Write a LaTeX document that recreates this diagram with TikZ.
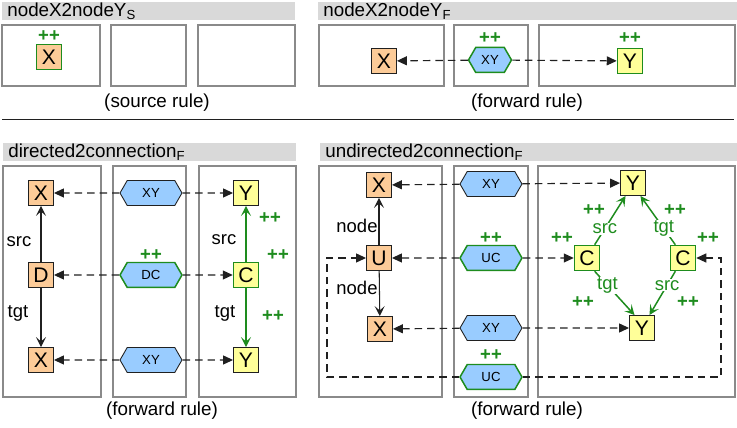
\documentclass[tikz,border=0pt]{standalone}
\usepackage{fontspec}
\setmainfont{Liberation Sans}
\usepackage{tikz}
\usetikzlibrary{calc,positioning,shapes.geometric,shapes.symbols,arrows.meta}
\usepackage{xcolor}
\definecolor{RuleGreen}{HTML}{1E8C1E}
\definecolor{PeachFill}{HTML}{FCCB98}
\definecolor{LemonFill}{HTML}{FFFF99}
\definecolor{SkyFill}{HTML}{99CCFF}
\definecolor{BarGray}{HTML}{D9D9D9}
\definecolor{PanelGray}{HTML}{8A8A8A}
\definecolor{InkGray}{HTML}{202020}

\begin{document}
\begin{tikzpicture}[x=0.02cm, y=-0.02cm,
				titlebar/.style={fill=BarGray},
				titletext/.style={anchor=west, inner sep=0pt, font=\fontsize{10.7}{12}\selectfont},
				panel/.style={draw=PanelGray, line width=0.85pt},
				caption/.style={inner sep=0pt, font=\fontsize{10.7}{12}\selectfont},
				objbox/.style={draw=InkGray, line width=0.5pt, minimum size=0.5cm, inner sep=0pt,
					font=\fontsize{12}{12}\selectfont},
				xbox/.style={objbox, fill=PeachFill},
				ybox/.style={objbox, fill=LemonFill},
				hexbox/.style={signal, signal to=west and east, signal pointer angle=120,
					draw=InkGray, line width=0.5pt, fill=SkyFill, minimum width=1.24cm, minimum height=0.5cm,
					inner sep=0pt, font=\fontsize{7.5}{9}\selectfont},
				hexsmall/.style={hexbox, minimum width=0.86cm},
				created/.style={draw=RuleGreen, line width=0.85pt},
				plus/.style={text=RuleGreen, inner sep=0pt, font=\fontsize{10.5}{12}\selectfont\bfseries},
				lbl/.style={inner sep=1pt, font=\fontsize{10.5}{12}\selectfont},
				edgelbl/.style={lbl, fill=white, inner sep=0.5pt},
				dasharrow/.style={-{Triangle[length=0.2cm, width=0.18cm]}, InkGray, line width=0.65pt,
					dash pattern=on 0.15cm off 0.1cm},
				edgearrow/.style={-{Stealth[length=0.2cm, width=0.2cm, inset=0.09cm]}, InkGray, line width=0.6pt},
				greenarrow/.style={edgearrow, RuleGreen, line width=0.85pt}
				]
				\useasboundingbox (0,0) rectangle (737,428);
				% source rule
				\fill[titlebar] (2,2) rectangle (295,20);
				\node[titletext] (t1) at (7,11) {nodeX2nodeY\textsubscript{S}};
				\draw[panel] (2,25) rectangle (100,86);
				\draw[panel] (111,25) rectangle (186,86);
				\draw[panel] (198,25) rectangle (295,86);
				\node[xbox, created] (sx) at (49,57) {X};
				\node[plus] (spx) at (49,36) {++};
				\node[caption] (cap1) at (157,103) {(source rule)};
				\draw[InkGray, line width=0.5pt] (2,119) -- (734,119);
				% forward rule
				\fill[titlebar] (318,2) rectangle (737,20);
				\node[titletext] (t2) at (323,11) {nodeX2nodeY\textsubscript{F}};
				\draw[panel] (319,25) rectangle (444,86);
				\draw[panel] (454,25) rectangle (528,86);
				\draw[panel] (539,25) rectangle (735,86);
				\node[xbox] (fx) at (384,61) {X};
				\node[hexsmall, created] (fxy) at (490,60) {XY};
				\node[ybox, created] (fy) at (630,61) {Y};
				\node[plus] (fpxy) at (490,38) {++};
				\node[plus] (fpy) at (630,38) {++};
				\draw[dasharrow] (fxy) -- (fx);
				\draw[dasharrow] (fxy) -- (fy);
				\node[caption] (cap2) at (527,103) {(forward rule)};
				% directed2connection
				\fill[titlebar] (3,143) rectangle (296,161);
				\node[titletext] (t3) at (8,152) {directed2connection\textsubscript{F}};
				\draw[panel] (3,166) rectangle (101,397);
				\draw[panel] (113,166) rectangle (186,397);
				\draw[panel] (199,166) rectangle (296,397);
				\node[xbox] (dx1) at (41,193) {X};
				\node[hexbox] (dxy1) at (151,193) {XY};
				\node[ybox] (dy1) at (246,193) {Y};
				\node[xbox] (dd) at (41,275) {D};
				\node[hexbox, created] (ddc) at (151,275) {DC};
				\node[ybox, created] (dc) at (246,275) {C};
				\node[xbox] (dx2) at (41,360) {X};
				\node[hexbox] (dxy2) at (151,360) {XY};
				\node[ybox] (dy2) at (246,360) {Y};
				\draw[edgearrow] (dd) -- (dx1);
				\draw[edgearrow] (dd) -- (dx2);
				\draw[greenarrow] (dc) -- (dy1);
				\draw[greenarrow] (dc) -- (dy2);
				\node[lbl] (dsrc1) at (19,242) {src};
				\node[lbl] (dtgt1) at (18,313) {tgt};
				\node[lbl] (dsrc2) at (224,240) {src};
				\node[lbl] (dtgt2) at (225,313) {tgt};
				\node[plus] (dpdc) at (151,255) {++};
				\node[plus] (dpsrc) at (270,218) {++};
				\node[plus] (dpc) at (278,255) {++};
				\node[plus] (dptgt) at (273,316) {++};
				\foreach \row in {1,2} {
					\draw[dasharrow] (dxy\row) -- (dx\row);
					\draw[dasharrow] (dxy\row) -- (dy\row);
				}
				\draw[dasharrow] (ddc) -- (dd);
				\draw[dasharrow] (ddc) -- (dc);
				\node[caption] (cap3) at (162,411) {(forward rule)};
				% undirected2connection
				\fill[titlebar] (320,143) rectangle (737,161);
				\node[titletext] (t4) at (325,152) {undirected2connection\textsubscript{F}};
				\draw[panel] (319,166) rectangle (442,397);
				\draw[panel] (454,166) rectangle (528,397);
				\draw[panel] (538,166) rectangle (735,397);
				\node[xbox] (ux1) at (379,185) {X};
				\node[hexbox] (uxy1) at (491,184) {XY};
				\node[ybox] (uy1) at (633,183) {Y};
				\node[xbox] (uu) at (379,258) {U};
				\node[hexbox, created] (uuc1) at (491,258) {UC};
				\node[ybox, created] (uc1) at (587,258) {C};
				\node[ybox, created] (uc2) at (683,258) {C};
				\node[xbox] (ux2) at (380,329) {X};
				\node[hexbox] (uxy2) at (491,328) {XY};
				\node[ybox] (uy2) at (642,328) {Y};
				\node[hexbox, created] (uuc2) at (491,377) {UC};
				\draw[edgearrow] (uu) -- (ux1);
				\draw[edgearrow] (uu) -- (ux2);
				\node[lbl] (unode1) at (357,226) {node};
				\node[lbl] (unode2) at (357,288) {node};
				\draw[greenarrow] (uc1.60) -- node[edgelbl, pos=0.33] (usrc1) {src} (uy1.-120);
				\draw[greenarrow] (uc2.120) -- node[edgelbl, pos=0.33] (utgt1) {tgt} (uy1.-60);
				\draw[greenarrow] (uc1.-60) -- node[edgelbl, pos=0.32] (utgt2) {tgt} (uy2.120);
				\draw[greenarrow] (uc2.-120) -- node[edgelbl, pos=0.32] (usrc2) {src} (uy2.60);
				\node[plus] (upuc1) at (491,238) {++};
				\node[plus] (upuc2) at (491,355) {++};
				\node[plus] (upsrc1) at (594,210) {++};
				\node[plus] (uptgt1) at (675,210) {++};
				\node[plus] (upc1) at (562,238) {++};
				\node[plus] (upc2) at (708,238) {++};
				\node[plus] (uptgt2) at (583,302) {++};
				\node[plus] (upsrc2) at (688,302) {++};
				\draw[dasharrow] (uxy1) -- (ux1);
				\draw[dasharrow] (uxy1) -- (uy1);
				\draw[dasharrow] (uuc1) -- (uu);
				\draw[dasharrow] (uuc1) -- (uc1);
				\draw[dasharrow] (uxy2) -- (ux2);
				\draw[dasharrow] (uxy2) -- (uy2);
				\coordinate (loopl) at (327,377);
				\coordinate (loopr) at (721,377);
				\draw[dasharrow] (uuc2.west) -- (loopl) |- (uu.west);
				\draw[dasharrow] (uuc2.east) -- (loopr) |- (uc2.east);
				\node[caption] (cap4) at (527,411) {(forward rule)};
			\end{tikzpicture}
\end{document}
